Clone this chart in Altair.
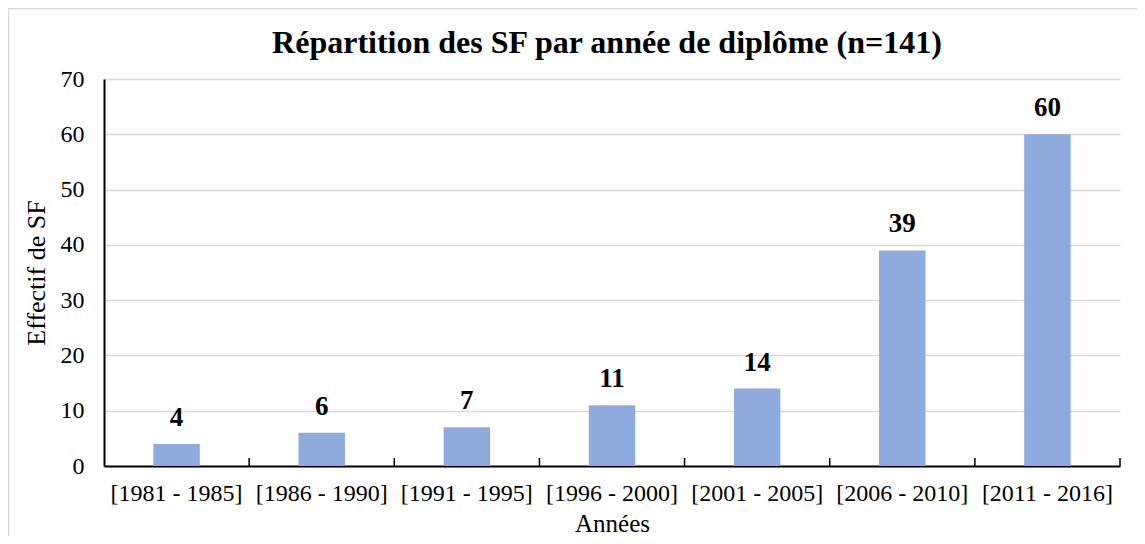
import altair as alt
import pandas as pd

categories = ["[1981 - 1985]", "[1986 - 1990]", "[1991 - 1995]", "[1996 - 2000]",
              "[2001 - 2005]", "[2006 - 2010]", "[2011 - 2016]"]
values = [4, 6, 7, 11, 14, 39, 60]
title_text = "Répartition des SF par année de diplôme (n=141)"

df = pd.DataFrame({"cat": categories, "val": values})
FONT = "Liberation Serif"
W, H = 1016, 387

xenc = alt.X("cat:N", sort=categories, title="Années",
             scale=alt.Scale(paddingInner=0, paddingOuter=0),
             axis=alt.Axis(labelAngle=0, tickSize=0, labelPadding=15, titlePadding=6,
                           domainColor="black", domainWidth=2, labelFont=FONT, titleFont=FONT,
                           labelFontSize=24, titleFontSize=25, titleFontWeight="normal",
                           labelColor="#000", titleColor="#000", grid=False))
yenc = alt.Y("val:Q", title="Effectif de SF",
             scale=alt.Scale(domain=[0, 70]),
             axis=alt.Axis(values=list(range(0, 80, 10)), tickSize=0, labelPadding=20,
                           titlePadding=11, domainColor="black", domainWidth=2,
                           labelFont=FONT, titleFont=FONT, labelFontSize=24, titleFontSize=26,
                           titleFontWeight="normal", labelColor="#000", titleColor="#000",
                           grid=True, gridColor="#d9d9d9", gridWidth=1.5))

base = alt.Chart(df)
one = base.transform_filter(alt.datum.cat == categories[0])

border = one.mark_rect(fill=None, stroke="#d9d9d9", strokeWidth=1.5, clip=False).encode(
    x=alt.value(-95.5), x2=alt.value(W + 60), y=alt.value(-70.5), y2=alt.value(H + 100)
)

title = one.mark_text(font=FONT, fontSize=32, fontWeight="bold", color="#000",
                      align="center", baseline="alphabetic").encode(
    x=alt.value(W / 2 - 5), y=alt.value(-26), text=alt.value(title_text))

bars = base.mark_bar(color="#8FAADC", width=alt.RelativeBandSize(0.32)).encode(x=xenc, y=yenc)

labels = base.mark_text(font=FONT, fontSize=27, fontWeight="bold", baseline="bottom",
                        dy=-12, color="#000").encode(
    x=alt.X("cat:N", sort=categories), y="val:Q", text="val:Q")

ticks_left = base.mark_rule(color="black", strokeWidth=1.5).encode(
    x=alt.X("cat:N", sort=categories, bandPosition=0),
    y=alt.value(H - 8), y2=alt.value(H)
).transform_filter(alt.datum.cat != categories[0])

ticks_right = base.mark_rule(color="black", strokeWidth=1.5).encode(
    x=alt.X("cat:N", sort=categories, bandPosition=1),
    y=alt.value(H - 8), y2=alt.value(H)
).transform_filter(alt.datum.cat == categories[-1])

chart = alt.layer(border, title, bars, labels, ticks_left, ticks_right).properties(
    width=W, height=H,
    autosize=alt.AutoSizeParams(type="none"),
    padding={"left": 96, "top": 71, "right": 17, "bottom": 70},
).configure_view(stroke=None)

chart.save("out.html", embed_options={"renderer": "svg", "actions": False})
